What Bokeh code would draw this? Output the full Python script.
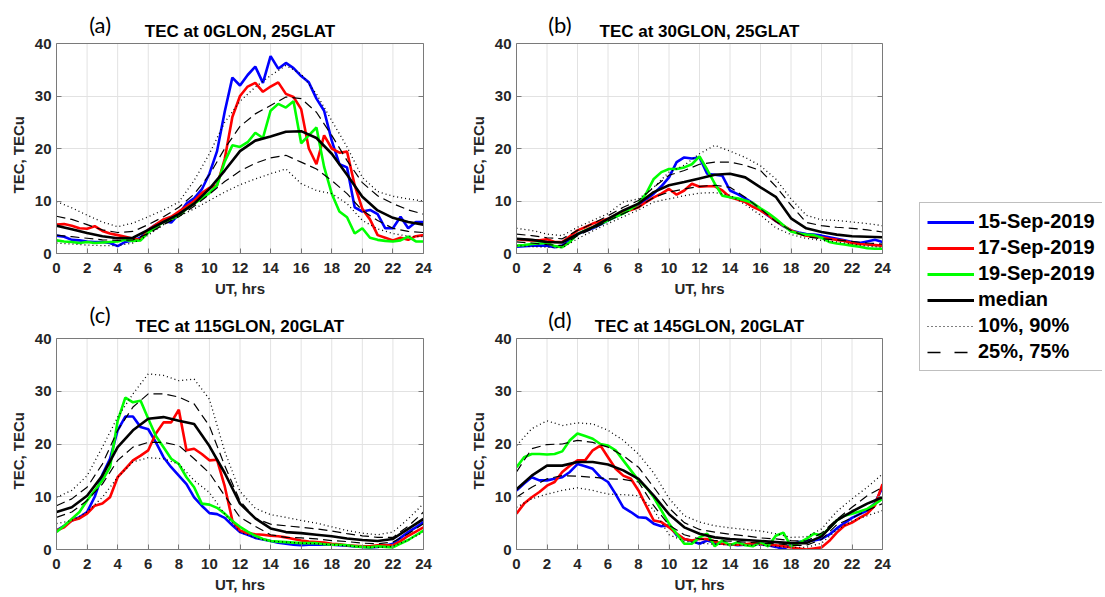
from bokeh.plotting import figure
from bokeh.layouts import row, column
from bokeh.models import Range1d, Legend, LegendItem, FixedTicker, LinearAxis, Span, Title
from bokeh.core.properties import value
from bokeh.embed import file_html
from bokeh.resources import INLINE

# ---------------- data ----------------
UT_HALF = [i * 0.5 for i in range(49)]   # 0, 0.5, ..., 24 h
UT_HOUR = list(range(25))                # 0, 1, ..., 24 h
X_TICKS = [0, 2, 4, 6, 8, 10, 12, 14, 16, 18, 20, 22, 24]
Y_TICKS = [0, 10, 20, 30, 40]
SERIES_LABELS = ["15-Sep-2019", "17-Sep-2019", "19-Sep-2019", "median", "10%, 90%", "25%, 75%"]

# Panel (a) 0GLON, 25GLAT
A_BLUE = [3.4, 3.2, 2.6, 2.5, 2.3, 2.2, 2.2, 2.0, 1.4, 2.2, 2.5, 3.0, 4.5, 5.5, 6.2, 5.9, 7.5, 9.5, 10.5, 12.2,
          15.2, 19.5, 27.0, 33.5, 32.0, 34.0, 35.6, 32.5, 37.6, 35.2, 36.3, 35.3, 33.8, 32.6, 29.5, 27.2, 21.5,
          17.0, 16.4, 8.8, 8.0, 8.3, 7.5, 4.8, 4.8, 7.0, 4.8, 6.0, 6.0]
A_RED = [5.5, 5.6, 5.3, 4.8, 4.7, 5.2, 4.3, 3.8, 3.5, 3.2, 2.8, 2.6, 4.5, 5.5, 6.5, 7.0, 8.0, 9.0, 10.0, 11.5,
         12.5, 13.0, 18.0, 26.0, 30.0, 31.8, 32.5, 30.8, 31.8, 32.6, 30.4, 29.8, 27.5, 20.0, 17.0, 22.5, 20.0,
         19.2, 19.4, 13.0, 8.5, 6.5, 3.5, 3.0, 2.5, 3.0, 2.6, 3.3, 3.5]
A_GREEN = [2.5, 2.3, 2.2, 2.0, 2.2, 2.0, 2.1, 2.2, 2.3, 2.6, 2.4, 2.5, 4.0, 5.0, 6.0, 6.5, 7.2, 8.5, 9.5, 10.5,
           11.5, 13.0, 17.5, 20.6, 20.3, 21.2, 23.0, 22.0, 27.2, 28.5, 27.8, 29.0, 21.0, 22.5, 24.0, 16.5, 11.4,
           8.0, 6.9, 3.8, 4.8, 3.0, 2.6, 2.4, 2.3, 2.5, 3.2, 2.3, 2.3]
A_MED = [5.3, 4.6, 3.9, 3.3, 2.9, 3.0, 4.5, 6.0, 7.5, 9.5, 12.3, 15.8, 19.5, 21.5, 22.3, 23.2, 23.3, 22.0, 19.0,
         15.0, 10.8, 8.2, 6.8, 6.0, 5.5]
A_P90 = [9.9, 8.7, 7.3, 6.0, 5.1, 5.8, 7.0, 8.3, 9.8, 13.9, 19.0, 25.0, 29.0, 31.7, 33.9, 35.8, 34.2, 30.4, 25.3,
         20.3, 14.5, 11.8, 10.9, 10.4, 10.0]
A_P75 = [7.1, 6.5, 5.5, 4.5, 4.0, 4.2, 5.5, 7.0, 8.8, 11.3, 15.0, 20.0, 24.2, 26.6, 28.2, 29.8, 29.5, 26.9, 22.5,
         17.7, 13.5, 11.0, 9.5, 8.3, 7.5]
A_P25 = [3.5, 3.2, 2.9, 2.6, 2.5, 2.6, 3.8, 5.5, 7.0, 9.0, 11.3, 13.7, 15.7, 17.2, 18.2, 18.7, 17.4, 16.1, 13.9,
         11.4, 8.2, 6.3, 4.8, 4.2, 4.0]
A_P10 = [2.0, 1.8, 1.6, 1.5, 1.5, 2.0, 3.5, 5.5, 7.1, 8.5, 10.1, 11.7, 13.1, 14.2, 15.2, 16.1, 13.3, 12.0, 11.4,
         9.5, 6.3, 4.7, 3.8, 3.3, 3.2]

# Panel (b) 30GLON, 25GLAT
B_BLUE = [1.3, 1.4, 1.5, 1.5, 1.5, 1.2, 1.5, 2.6, 3.7, 4.3, 4.8, 5.5, 6.3, 7.0, 7.7, 8.5, 9.3, 10.3, 11.4, 12.8,
          14.5, 17.4, 18.3, 18.1, 18.3, 15.2, 15.0, 14.8, 12.0, 11.3, 10.5, 9.6, 8.3, 7.2, 6.2, 5.2, 4.4, 4.0,
          3.7, 3.6, 3.4, 3.1, 2.8, 2.5, 2.2, 2.0, 2.3, 2.6, 2.2]
B_RED = [2.7, 2.6, 2.5, 2.5, 2.7, 2.2, 2.2, 3.3, 4.4, 5.0, 5.7, 6.2, 6.6, 7.3, 7.9, 8.3, 8.8, 9.8, 10.7, 11.4,
         12.3, 11.2, 12.0, 13.3, 12.7, 12.8, 12.8, 12.0, 10.7, 10.3, 9.8, 8.9, 8.2, 7.3, 6.2, 5.3, 4.4, 3.8, 3.4,
         3.2, 3.1, 2.8, 2.6, 2.4, 2.0, 1.8, 1.7, 1.6, 1.5]
B_GREEN = [1.5, 1.6, 1.8, 1.9, 2.0, 1.4, 1.2, 2.2, 3.7, 4.4, 5.0, 5.6, 6.3, 7.0, 7.6, 8.5, 9.5, 11.4, 14.2, 15.5,
           16.1, 16.1, 16.4, 17.0, 18.5, 16.0, 13.3, 11.0, 10.7, 10.5, 10.1, 9.6, 8.6, 7.7, 6.6, 5.4, 4.2, 3.8,
           3.6, 3.5, 3.0, 2.2, 1.9, 1.7, 1.5, 1.3, 1.0, 0.9, 0.9]
B_MED = [2.8, 2.6, 2.2, 2.1, 3.7, 5.0, 6.6, 8.2, 9.5, 11.7, 13.0, 13.6, 14.3, 15.0, 15.2, 14.5, 12.6, 10.8, 6.7,
         4.8, 4.1, 3.6, 3.3, 3.2, 3.1]
B_P90 = [4.8, 4.4, 3.7, 3.4, 5.0, 6.3, 7.6, 9.8, 10.4, 12.6, 15.5, 16.8, 19.0, 20.6, 19.5, 18.3, 16.7, 14.2, 10.4,
         7.3, 6.4, 6.3, 6.0, 5.7, 5.3]
B_P75 = [3.7, 3.4, 3.0, 2.8, 4.4, 5.7, 7.2, 8.8, 10.1, 12.6, 14.9, 15.8, 17.0, 17.4, 17.4, 16.8, 15.8, 12.8, 9.2,
         5.9, 5.3, 5.0, 4.8, 4.5, 4.1]
B_P25 = [2.2, 2.0, 1.7, 1.5, 3.4, 4.7, 6.2, 7.6, 8.8, 10.7, 11.7, 12.3, 12.8, 13.0, 12.6, 10.7, 8.5, 6.1, 4.4,
         3.2, 2.8, 2.6, 2.3, 2.0, 1.8]
B_P10 = [1.5, 1.3, 1.2, 1.1, 2.8, 4.3, 5.7, 7.0, 8.3, 9.8, 10.4, 11.0, 11.5, 11.6, 11.1, 9.3, 7.3, 4.9, 3.6, 2.9,
         2.5, 2.2, 1.8, 1.4, 1.2]

# Panel (c) 115GLON, 20GLAT
C_BLUE = [3.6, 4.5, 5.5, 6.1, 7.1, 10.0, 14.2, 17.2, 22.6, 25.2, 25.2, 23.2, 22.8, 20.3, 17.5, 15.6, 14.0, 12.4,
          9.9, 8.3, 6.9, 6.7, 6.0, 4.6, 3.3, 2.8, 2.2, 1.9, 1.6, 1.3, 1.1, 0.9, 0.8, 0.9, 0.9, 0.9, 0.9, 0.8, 0.7,
          0.6, 0.5, 0.4, 0.5, 0.7, 1.1, 2.2, 3.3, 4.2, 5.2]
C_RED = [3.6, 4.2, 5.5, 5.9, 6.8, 8.3, 8.7, 9.9, 13.7, 15.3, 16.9, 17.8, 18.8, 22.0, 24.1, 24.1, 26.5, 18.8, 19.1,
         18.1, 16.9, 17.0, 12.0, 5.5, 3.6, 3.1, 2.9, 2.8, 2.6, 2.5, 2.3, 2.0, 1.7, 1.5, 1.4, 1.3, 1.1, 1.0, 0.8,
         0.7, 0.6, 0.6, 0.8, 0.8, 0.8, 1.6, 2.6, 3.4, 4.2]
C_GREEN = [3.3, 4.5, 5.8, 7.1, 9.3, 11.2, 13.1, 15.6, 24.4, 28.8, 27.9, 28.2, 24.8, 21.5, 19.4, 17.2, 16.2, 13.7,
           11.8, 8.7, 8.5, 7.9, 6.8, 5.4, 4.3, 3.4, 2.6, 2.0, 1.6, 1.5, 1.4, 1.3, 1.2, 1.2, 1.2, 1.0, 0.9, 0.9,
           0.8, 0.6, 0.5, 0.4, 0.6, 0.5, 0.4, 1.1, 1.8, 2.7, 3.6]
C_MED = [7.1, 8.0, 10.2, 14.0, 19.4, 22.6, 24.8, 25.1, 24.4, 23.8, 19.6, 14.5, 8.7, 5.9, 4.0, 3.3, 3.1, 2.8, 2.5,
         2.1, 1.8, 1.6, 2.0, 3.9, 5.8]
C_P90 = [9.9, 11.2, 14.0, 19.4, 25.1, 29.5, 33.3, 33.0, 32.0, 32.3, 28.5, 18.6, 11.0, 7.8, 6.6, 6.1, 5.5, 5.0, 4.3,
         3.6, 3.1, 2.8, 3.3, 5.8, 8.7]
C_P75 = [8.3, 9.6, 11.8, 16.2, 22.6, 27.0, 29.5, 29.5, 28.9, 27.6, 23.4, 15.9, 9.2, 5.9, 4.8, 4.5, 4.2, 3.9, 3.5,
         3.0, 2.6, 2.3, 2.3, 4.4, 7.1]
C_P25 = [6.1, 7.1, 9.3, 12.4, 16.9, 19.4, 20.3, 20.3, 19.7, 17.2, 14.5, 10.2, 6.1, 4.4, 2.8, 2.3, 2.2, 2.0, 1.7,
         1.5, 1.2, 1.1, 1.4, 3.0, 4.9]
C_P10 = [4.9, 5.5, 7.1, 9.9, 13.7, 16.6, 17.4, 17.2, 16.2, 13.1, 10.8, 6.7, 3.3, 2.2, 1.6, 1.4, 1.2, 1.1, 0.9,
         0.7, 0.5, 0.4, 0.6, 1.8, 3.3]

# Panel (d) 145GLON, 20GLAT
D_BLUE = [11.2, 12.5, 13.7, 13.1, 13.1, 13.4, 13.7, 14.7, 16.2, 15.8, 15.3, 13.7, 12.8, 10.5, 8.0, 7.1, 6.1, 6.0,
          4.9, 4.4, 4.6, 2.7, 2.0, 1.6, 1.1, 1.7, 1.3, 1.1, 1.0, 0.8, 0.9, 1.1, 1.0, 0.8, 0.5, 0.1, 0.9, 1.4, 1.7,
          1.7, 2.0, 2.8, 4.0, 5.0, 6.0, 6.7, 7.4, 8.8, 11.8]
D_RED = [6.8, 8.7, 9.9, 10.9, 12.1, 12.8, 14.7, 15.9, 16.9, 16.9, 18.8, 19.7, 17.5, 15.3, 14.0, 13.4, 11.2, 8.3,
         5.5, 5.2, 4.2, 3.0, 2.0, 1.7, 2.0, 2.0, 1.5, 1.1, 1.0, 0.9, 1.0, 1.2, 1.1, 0.9, 0.8, 0.6, 0.4, 0.2, 0.0,
         0.2, 0.4, 1.6, 3.2, 4.5, 5.1, 6.0, 6.8, 8.3, 12.4]
D_GREEN = [15.6, 17.5, 18.1, 18.1, 18.0, 18.1, 18.6, 20.7, 22.0, 21.5, 21.0, 20.0, 19.7, 18.8, 16.9, 15.0, 13.1,
           11.8, 9.9, 7.4, 4.9, 3.0, 1.1, 1.1, 2.3, 3.0, 0.6, 1.7, 0.8, 1.4, 0.8, 0.6, 1.4, 0.6, 2.6, 3.2, 0.6,
           1.2, 2.0, 3.0, 2.7, 4.0, 5.5, 6.4, 6.8, 7.2, 7.7, 8.6, 9.6]
D_MED = [11.4, 14.0, 15.9, 15.9, 16.6, 16.6, 16.1, 15.0, 13.4, 10.2, 6.7, 4.2, 3.0, 2.3, 2.0, 1.8, 1.6, 1.4, 1.2,
         1.2, 2.5, 5.5, 7.2, 8.7, 9.9]
D_P90 = [19.7, 22.9, 24.4, 23.5, 24.0, 23.8, 22.6, 20.7, 18.1, 14.5, 9.7, 6.4, 5.2, 4.5, 4.1, 3.8, 3.5, 3.0, 2.3,
         2.4, 3.9, 7.2, 9.6, 11.8, 14.3]
D_P75 = [14.7, 19.1, 19.9, 20.0, 20.7, 20.3, 19.4, 17.8, 15.6, 11.8, 7.9, 5.1, 3.8, 3.3, 2.9, 2.6, 2.2, 2.0, 1.7,
         1.6, 3.1, 5.7, 8.0, 10.2, 11.8]
D_P25 = [9.9, 11.8, 13.4, 14.0, 13.9, 13.7, 13.4, 13.3, 12.8, 8.3, 4.6, 2.8, 2.0, 1.7, 1.6, 1.4, 1.2, 1.1, 0.8,
         0.8, 1.9, 4.7, 6.0, 7.4, 8.7]
D_P10 = [8.0, 9.6, 10.5, 11.2, 11.7, 11.2, 10.5, 10.4, 10.2, 7.5, 2.8, 1.6, 1.2, 1.0, 0.9, 0.8, 0.8, 0.6, 0.4,
         0.4, 1.2, 3.7, 5.4, 6.4, 7.4]

PANELS = [
    dict(tag="(a)", title="TEC at 0GLON, 25GLAT", blue=A_BLUE, red=A_RED, green=A_GREEN,
         med=A_MED, p10=A_P10, p90=A_P90, p25=A_P25, p75=A_P75),
    dict(tag="(b)", title="TEC at 30GLON, 25GLAT", blue=B_BLUE, red=B_RED, green=B_GREEN,
         med=B_MED, p10=B_P10, p90=B_P90, p25=B_P25, p75=B_P75),
    dict(tag="(c)", title="TEC at 115GLON, 20GLAT", blue=C_BLUE, red=C_RED, green=C_GREEN,
         med=C_MED, p10=C_P10, p90=C_P90, p25=C_P25, p75=C_P75),
    dict(tag="(d)", title="TEC at 145GLON, 20GLAT", blue=D_BLUE, red=D_RED, green=D_GREEN,
         med=D_MED, p10=D_P10, p90=D_P90, p25=D_P25, p75=D_P75),
]

# ---------------- styles ----------------
BLUE, RED, GREEN, BLACK = "#0000ff", "#ff0000", "#00ff00", "#000000"
COL_W = 2.6
DOT_DASH = "1 3"
DASH_DASH = "9 5"
FONT = "Liberation Sans"
FRAME_GRAY = "#7a7a7a"
GRID_GRAY = "#e2e2e2"
TXT = "#262626"
Y_MAX = Y_TICKS[-1]
Y_LABEL = "TEC, TECu"
X_LABEL = "UT, hrs"


def style_axis(ax):
    ax.axis_line_color = FRAME_GRAY
    ax.major_tick_line_color = FRAME_GRAY
    ax.major_tick_in = 5
    ax.major_tick_out = 0
    ax.minor_tick_line_color = None
    ax.major_label_text_font = FONT
    ax.major_label_text_font_size = "15px"
    ax.major_label_text_font_style = "bold"
    ax.major_label_text_color = TXT
    ax.axis_label_text_font = FONT
    ax.axis_label_text_font_size = "15px"
    ax.axis_label_text_font_style = "bold"
    ax.axis_label_text_color = TXT


def make_panel(pnl, width, height, left, right, bottom, plot_px, title_px, tag_px):
    # the frame reaches the top of the canvas so that the title and the tag can sit inside it;
    # the plotted box itself is 0..40 TECu and plot_px pixels high
    frame_px = height - bottom
    y_top = Y_MAX * frame_px / plot_px
    to_y = lambda px: (frame_px - px) * Y_MAX / plot_px
    p = figure(width=width, height=height, x_range=Range1d(0, 24), y_range=Range1d(0, y_top),
               toolbar_location=None, output_backend="svg",
               min_border_left=left, min_border_right=right, min_border_top=0, min_border_bottom=bottom)
    p.background_fill_color = "white"
    p.border_fill_color = "white"
    p.outline_line_color = None

    style_axis(p.xaxis[0])
    style_axis(p.yaxis[0])
    p.xaxis.ticker = FixedTicker(ticks=X_TICKS)
    p.yaxis.ticker = FixedTicker(ticks=Y_TICKS)
    p.yaxis.bounds = (0, Y_MAX)
    p.xaxis.axis_label = X_LABEL
    p.xaxis.major_label_standoff = 9
    p.xaxis.axis_label_standoff = 4
    p.yaxis.major_label_standoff = 5

    # y label as a vertical title next to the axis, starting 60 px above the box bottom
    p.add_layout(Title(text=Y_LABEL, align="left", offset=60, vertical_align="middle", standoff=8,
                       text_font=FONT, text_font_size="15px", text_font_style="bold", text_color=TXT),
                 "left")

    right_ax = LinearAxis(ticker=FixedTicker(ticks=Y_TICKS), bounds=(0, Y_MAX))
    style_axis(right_ax)
    right_ax.major_label_text_font_size = "1px"
    right_ax.major_label_text_alpha = 0
    right_ax.major_label_standoff = 0
    p.add_layout(right_ax, "right")

    p.xgrid.visible = False
    p.ygrid.ticker = FixedTicker(ticks=Y_TICKS)
    p.ygrid.grid_line_color = GRID_GRAY
    p.segment(x0=X_TICKS, y0=[0] * len(X_TICKS), x1=X_TICKS, y1=[Y_MAX] * len(X_TICKS),
              line_color=GRID_GRAY, line_width=1)
    p.add_layout(Span(location=Y_MAX, dimension="width", line_color=FRAME_GRAY, line_width=1))

    p.line(UT_HALF, pnl["blue"], line_color=BLUE, line_width=COL_W)
    p.line(UT_HALF, pnl["red"], line_color=RED, line_width=COL_W)
    p.line(UT_HALF, pnl["green"], line_color=GREEN, line_width=COL_W)
    p.line(UT_HOUR, pnl["med"], line_color=BLACK, line_width=COL_W)
    p.line(UT_HOUR, pnl["p10"], line_color=BLACK, line_width=1.3, line_dash=DOT_DASH)
    p.line(UT_HOUR, pnl["p90"], line_color=BLACK, line_width=1.3, line_dash=DOT_DASH)
    p.line(UT_HOUR, pnl["p25"], line_color=BLACK, line_width=1.2, line_dash=DASH_DASH)
    p.line(UT_HOUR, pnl["p75"], line_color=BLACK, line_width=1.2, line_dash=DASH_DASH)

    p.text(x=[12], y=[to_y(title_px)], text=[pnl["title"]], text_align="center", text_baseline="middle",
           text_font=value(FONT), text_font_size="17px", text_font_style="bold", text_color=BLACK)
    p.text(x=[2.85], y=[to_y(tag_px)], text=[pnl["tag"]], text_align="center", text_baseline="middle",
           text_font=value("Lato"), text_font_size="22px", text_color=BLACK)
    return p


fa = make_panel(PANELS[0], 460, 300, 56, 37, 47, 210, 30.5, 24)
fb = make_panel(PANELS[1], 442, 300, 56, 20, 47, 210, 30.5, 24)
fc = make_panel(PANELS[2], 460, 296, 56, 37, 47, 211, 26, 14)
fd = make_panel(PANELS[3], 442, 296, 56, 20, 47, 211, 26, 19)

# ---------------- legend panel ----------------
fl = figure(width=200, height=596, x_range=Range1d(0, 1), y_range=Range1d(0, 1),
            toolbar_location=None, output_backend="svg", x_axis_location=None, y_axis_location=None,
            min_border=0)
fl.outline_line_color = None
fl.xgrid.visible = False
fl.ygrid.visible = False
legend_styles = [
    dict(line_color=BLUE, line_width=3),
    dict(line_color=RED, line_width=3),
    dict(line_color=GREEN, line_width=3),
    dict(line_color=BLACK, line_width=3),
    dict(line_color=BLACK, line_width=1.2, line_dash="1 3"),
    dict(line_color=BLACK, line_width=1.5, line_dash="13 14"),
]
items = []
for lab, st in zip(SERIES_LABELS, legend_styles):
    r = fl.line([5, 6], [5, 6], **st)   # off-screen: only its legend sample is seen
    items.append(LegendItem(label=lab, renderers=[r]))
legend = Legend(items=items, location=(17, 225), label_text_font=FONT, label_text_font_size="20px",
                label_text_font_style="bold", label_text_color=BLACK, glyph_width=47, glyph_height=20,
                label_height=20, spacing=3, padding=7, margin=0, label_standoff=4,
                border_line_color="#7f7f7f", border_line_width=1, background_fill_color="white")
fl.add_layout(legend)

layout = row(column(row(fa, fb), row(fc, fd)), fl)
open("out.html", "w").write(file_html(layout, INLINE))
